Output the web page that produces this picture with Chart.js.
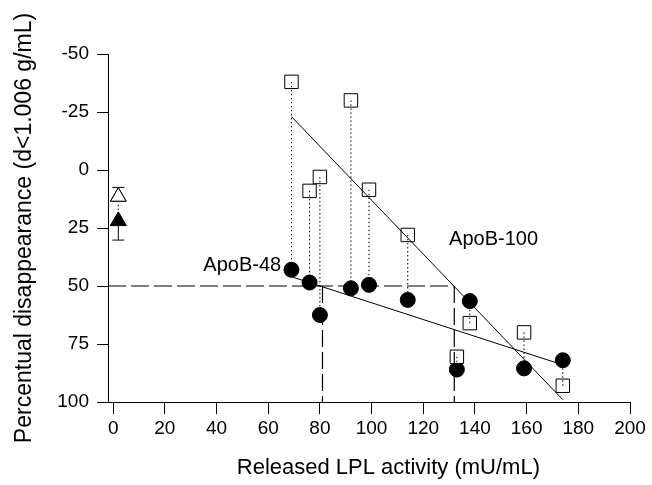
<!DOCTYPE html>
<html>
<head>
<meta charset="utf-8">
<script src="https://cdn.jsdelivr.net/npm/chart.js@4/dist/chart.umd.min.js"></script>
<style>
  html, body { margin: 0; padding: 0; background: #fff; }
  #wrap { width: 652px; height: 485px; }
</style>
</head>
<body>
<div id="wrap"><canvas id="grafico"></canvas></div>
<script>
// data
const lplActivity = [69, 76, 80, 92, 99, 114, 138, 133, 159, 174];
const apoB100 = [-38, 9, 3, -30, 8.5, 28, 66, 80.5, 70, 93];
const apoB48 = [43, 48.5, 62.5, 51, 49.5, 56, 56.5, 86, 85.5, 82];

// regression lines (end points)
const fit100X = [69, 174];
const fit100Y = [-23, 99];
const fit48X = [69, 174];
const fit48Y = [46, 84];

// half-maximal levels
const halfLevel = 50;
const halfX48 = 81;
const halfX100 = 132;

// controls without heparin
const controlX = [2, 2];
const controlY = [11.5, 22];
const controlErr = [-4, 8.2];

const xTicks = [0, 20, 40, 60, 80, 100, 120, 140, 160, 180, 200];
const yTicks = [-50, -25, 0, 25, 50, 75, 100];

const FONT = 'Liberation Sans, Arial, sans-serif';

function pts(xs, ys) {
  return xs.map((x, i) => ({ x: x, y: ys[i] }));
}

// dotted links between ApoB-100 and ApoB-48 of the same sample
function links() {
  const out = [];
  lplActivity.forEach((x, i) => {
    out.push({ x: x, y: apoB100[i] }, { x: x, y: apoB48[i] }, { x: x, y: null });
  });
  out.push({ x: controlX[0], y: controlY[0] }, { x: controlX[1], y: controlY[1] });
  return out;
}

const lineBase = {
  type: 'line',
  showLine: true,
  pointRadius: 0,
  borderColor: '#000',
  borderWidth: 1,
  fill: false,
  spanGaps: false
};

// error bars, series labels, x title
const extras = {
  id: 'extras',
  afterDatasetsDraw(chart) {
    const { ctx, scales: { x, y } } = chart;
    ctx.save();
    ctx.strokeStyle = '#000';
    ctx.lineWidth = 1;
    controlX.forEach((cx, i) => {
      const px = x.getPixelForValue(cx);
      const p0 = y.getPixelForValue(controlY[i]);
      const p1 = y.getPixelForValue(controlY[i] + controlErr[i]);
      ctx.beginPath();
      ctx.moveTo(px, p0);
      ctx.lineTo(px, p1);
      ctx.moveTo(px - 6, p1);
      ctx.lineTo(px + 6, p1);
      ctx.stroke();
    });
    // triangles back on top of the bars
    chart.getDatasetMeta(4).controller.draw();
    chart.getDatasetMeta(5).controller.draw();

    ctx.fillStyle = '#000';
    ctx.font = '20px ' + FONT;
    ctx.textBaseline = 'middle';
    ctx.textAlign = 'right';
    ctx.fillText('ApoB-48', x.getPixelForValue(65), y.getPixelForValue(41));
    ctx.textAlign = 'left';
    ctx.fillText('ApoB-100', x.getPixelForValue(130), y.getPixelForValue(30));

    ctx.font = '22px ' + FONT;
    ctx.textAlign = 'center';
    ctx.fillText('Released LPL activity (mU/mL)', x.getPixelForValue(106.5), 468);
    ctx.restore();
  }
};

window.addEventListener('DOMContentLoaded', function () {
  const ctx = document.getElementById('grafico').getContext('2d');

  new Chart(ctx, {
    type: 'scatter',
    data: {
      datasets: [
        { ...lineBase, data: links(), borderDash: [1.5, 2.5] },
        { ...lineBase, data: [{ x: -2, y: halfLevel }, { x: halfX100, y: halfLevel }], borderDash: [18, 5], borderWidth: 1.2 },
        { ...lineBase, data: [{ x: halfX48, y: halfLevel }, { x: halfX48, y: 100 }, { x: halfX48, y: null },
                              { x: halfX100, y: halfLevel }, { x: halfX100, y: 100 }], borderDash: [17, 5], borderWidth: 1.2 },
        { ...lineBase, data: pts(fit100X, fit100Y).concat([{ x: 174, y: null }], pts(fit48X, fit48Y)) },
        {
          label: 'control open',
          data: [{ x: controlX[0], y: controlY[0] }],
          pointStyle: 'triangle',
          pointRadius: 9,
          backgroundColor: '#fff',
          borderColor: '#000',
          borderWidth: 1
        },
        {
          label: 'control filled',
          data: [{ x: controlX[1], y: controlY[1] }],
          pointStyle: 'triangle',
          pointRadius: 9,
          backgroundColor: '#000',
          borderColor: '#000',
          borderWidth: 1
        },
        {
          label: 'ApoB-100',
          data: pts(lplActivity, apoB100),
          pointStyle: 'rect',
          pointRadius: 9.5,
          backgroundColor: '#fff',
          borderColor: '#000',
          borderWidth: 1
        },
        {
          label: 'ApoB-48',
          data: pts(lplActivity, apoB48),
          pointStyle: 'circle',
          pointRadius: 7.5,
          backgroundColor: '#000',
          borderColor: '#000',
          borderWidth: 1
        }
      ]
    },
    options: {
      responsive: true,
      maintainAspectRatio: false,
      animation: false,
      layout: { padding: { top: 54, right: 22, left: 0, bottom: 0 } },
      plugins: {
        legend: { display: false },
        tooltip: { enabled: false }
      },
      scales: {
        x: {
          type: 'linear',
          min: -2,
          max: 200,
          afterBuildTicks: s => { s.ticks = xTicks.map(v => ({ value: v })); },
          afterFit: s => { s.height = 83; },
          grid: { display: true, drawOnChartArea: false, drawTicks: true, tickLength: 12, color: '#000', lineWidth: 1 },
          border: { display: true, color: '#000', width: 1 },
          ticks: { color: '#000', font: { family: FONT, size: 19 }, padding: 3, maxRotation: 0 },
          title: { display: false }
        },
        y: {
          type: 'linear',
          reverse: true,
          min: -50,
          max: 100,
          afterBuildTicks: s => { s.ticks = yTicks.map(v => ({ value: v })); },
          afterFit: s => { s.width = 108; },
          grid: { display: true, drawOnChartArea: false, drawTicks: true, tickLength: 11, color: '#000', lineWidth: 1 },
          border: { display: true, color: '#000', width: 1 },
          ticks: { color: '#000', font: { family: FONT, size: 19 }, padding: 8 },
          title: { display: true, text: 'Percentual disappearance (d<1.006 g/mL)', color: '#000', font: { family: FONT, size: 23 }, padding: { top: 11 } }
        }
      }
    },
    plugins: [extras]
  });
});
</script>
</body>
</html>
